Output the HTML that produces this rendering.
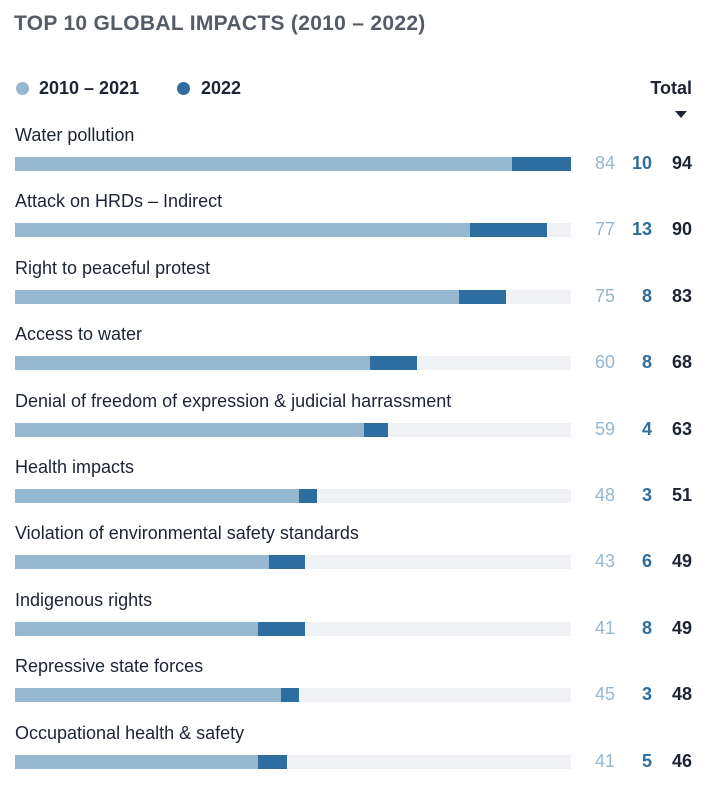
<!DOCTYPE html><html><head><style>
body{margin:0;width:722px;height:788px;background:#fff;font-family:"Liberation Sans",sans-serif;position:relative;overflow:hidden}
div{position:absolute}
.t{left:14px;top:12px;font-size:21px;font-weight:bold;color:#555c66;letter-spacing:0.3px}
.lab{left:15px;font-size:18px;color:#1d2433;white-space:nowrap}
.tr{left:15px;width:556px;height:14px;background:#f0f2f5}
.a{left:0;top:0;height:14px;background:#95b7d0}
.b{top:0;height:14px;background:#2e6da0}
.n{font-size:18px;text-align:right;width:40px}
.n1{color:#95b7d0}.n2{color:#2e6da0;font-weight:bold}.n3{color:#1d2433;font-weight:bold}
</style></head><body>
<div class="t">TOP 10 GLOBAL IMPACTS (2010 – 2022)</div>
<div style="left:16px;top:82px;width:13px;height:13px;border-radius:50%;background:#95b7d0"></div>
<div style="left:39px;top:78px;font-size:18px;color:#1d2433;font-weight:bold">2010 – 2021</div>
<div style="left:177px;top:82px;width:13px;height:13px;border-radius:50%;background:#2e6da0"></div>
<div style="left:201px;top:78px;font-size:18px;color:#1d2433;font-weight:bold">2022</div>
<div style="left:640px;top:78px;font-size:18px;color:#1d2433;font-weight:bold;width:52px;text-align:right">Total</div>
<div style="left:675px;top:111px;width:0;height:0;border-left:6px solid transparent;border-right:6px solid transparent;border-top:7px solid #1d2433"></div>
<div id="rows"></div>
<script>
var d=[["Water pollution",84,10],["Attack on HRDs – Indirect",77,13],["Right to peaceful protest",75,8],["Access to water",60,8],["Denial of freedom of expression & judicial harrassment",59,4],["Health impacts",48,3],["Violation of environmental safety standards",43,6],["Indigenous rights",41,8],["Repressive state forces",45,3],["Occupational health & safety",41,5]];
var s=556/94,h="";
d.forEach(function(r,i){var y=124+i*66.4;var by=y+33;
h+='<div class="lab" style="top:'+(y+1)+'px">'+r[0]+'</div>';
h+='<div class="tr" style="top:'+by+'px"><div class="a" style="width:'+(r[1]*s)+'px"></div><div class="b" style="left:'+(r[1]*s)+'px;width:'+(r[2]*s)+'px"></div></div>';
var ty=by-4;
h+='<div class="n n1" style="left:575px;top:'+ty+'px">'+r[1]+'</div>';
h+='<div class="n n2" style="left:612px;top:'+ty+'px">'+r[2]+'</div>';
h+='<div class="n n3" style="left:652px;top:'+ty+'px">'+(r[1]+r[2])+'</div>';});
document.getElementById('rows').innerHTML=h;
</script>
</body></html>
